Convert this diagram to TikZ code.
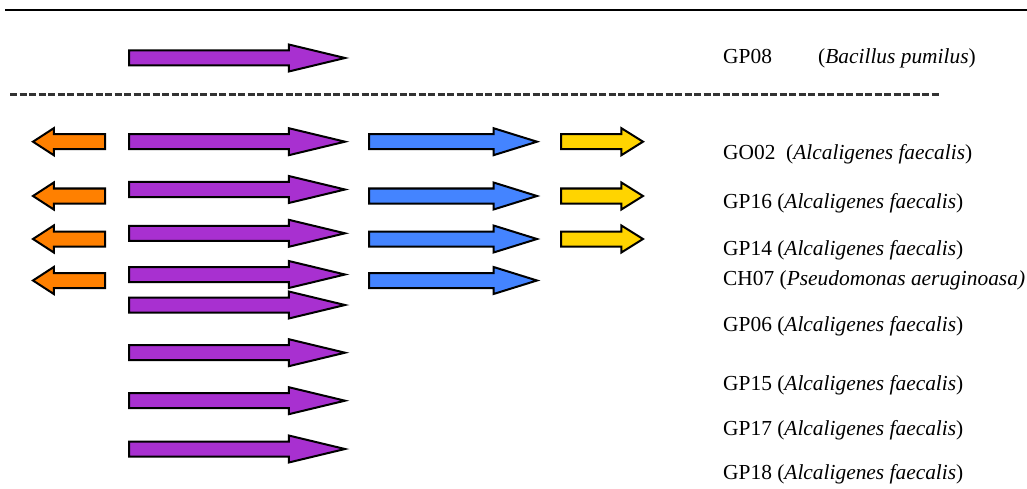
\documentclass[tikz,border=0pt]{standalone}
\usepackage{fontspec}
\setmainfont{Liberation Serif}
\usetikzlibrary{shapes.arrows}
\definecolor{genepurple}{RGB}{168,48,208}
\definecolor{geneblue}{RGB}{68,132,255}
\definecolor{geneyellow}{RGB}{255,212,0}
\definecolor{geneorange}{RGB}{255,128,0}
\tikzset{
	gene/.style={single arrow,draw=black,line width=2pt,inner xsep=0pt,inner ysep=6.5pt,outer sep=0pt,
		single arrow head extend=6pt,single arrow head indent=0pt,anchor=tail},
	purplegene/.style={gene,fill=genepurple,minimum height=216pt,single arrow tip angle=27},
	bluegene/.style={gene,fill=geneblue,minimum height=168pt,single arrow tip angle=34.5},
	yellowgene/.style={gene,fill=geneyellow,minimum height=82pt,single arrow tip angle=64},
	orangegene/.style={gene,fill=geneorange,minimum height=72pt,single arrow tip angle=66,shape border rotate=180},
	strain/.style={anchor=base west,inner sep=0pt,font=\fontsize{21.4}{24}\selectfont}
}
\begin{document}
\begin{tikzpicture}[x=1pt,y=-1pt]
						\useasboundingbox (0,0) rectangle (1027,489);
						\draw[line width=2.2pt] (5,10) -- (1027,10);
						\draw[line width=3pt,black!80,dash pattern=on 7pt off 2.5pt] (10,95) -- (940,95);
						% reference strain
						\node[purplegene] (p0) at (129,58) {};
						\node[strain] (s0) at (723,64) {GP08};
						\node[strain] (b0) at (818,64) {(\textit{Bacillus pumilus})};
						% strains with the full cluster
						\node[orangegene] (o1) at (105,141.7) {};
						\node[purplegene] (p1) at (129,141.7) {};
						\node[bluegene] (c1) at (369,141.7) {};
						\node[yellowgene] (y1) at (561,141.7) {};
						\node[orangegene] (o2) at (105,196) {};
						\node[purplegene] (p2) at (129,189.5) {};
						\node[bluegene] (c2) at (369,196) {};
						\node[yellowgene] (y2) at (561,196) {};
						\node[orangegene] (o3) at (105,239) {};
						\node[purplegene] (p3) at (129,233.3) {};
						\node[bluegene] (c3) at (369,239) {};
						\node[yellowgene] (y3) at (561,239) {};
						\node[orangegene] (o4) at (105,280.5) {};
						\node[purplegene] (p4) at (129,274.5) {};
						\node[bluegene] (c4) at (369,280.5) {};
						% strains with the purple gene only
						\node[purplegene] (p5) at (129,305) {};
						\node[purplegene] (p6) at (129,352.7) {};
						\node[purplegene] (p7) at (129,400.7) {};
						\node[purplegene] (p8) at (129,449) {};
						% strain names
						\node[strain] (s1) at (723,160) {GO02\ \ (\textit{Alcaligenes faecalis})};
						\node[strain] (s2) at (723,208) {GP16 (\textit{Alcaligenes faecalis})};
						\node[strain] (s3) at (723,255) {GP14 (\textit{Alcaligenes faecalis})};
						\node[strain] (s4) at (723,285) {CH07 (\textit{Pseudomonas aeruginoasa)}};
						\node[strain] (s5) at (723,331) {GP06 (\textit{Alcaligenes faecalis})};
						\node[strain] (s6) at (723,390) {GP15 (\textit{Alcaligenes faecalis})};
						\node[strain] (s7) at (723,435) {GP17 (\textit{Alcaligenes faecalis})};
						\node[strain] (s8) at (723,479) {GP18 (\textit{Alcaligenes faecalis})};
						\end{tikzpicture}
\end{document}
